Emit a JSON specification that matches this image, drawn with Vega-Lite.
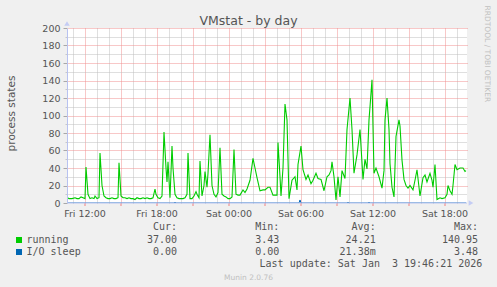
{
  "$schema": "https://vega.github.io/schema/vega-lite/v6.json",
  "width": 400,
  "height": 175,
  "autosize": {"type": "none"},
  "padding": {"left": 67, "top": 28, "right": 30, "bottom": 84},
  "background": "#F0F0F0",
  "view": {"stroke": null, "fill": "white"},
  "config": {
    "font": "DejaVu Sans",
    "axis": {"labelFont": "DejaVu Sans", "titleFont": "DejaVu Sans", "titleFontWeight": "normal"},
    "legend": {
      "symbolType": "square", "symbolSize": 36, "symbolStrokeWidth": 0,
      "labelFont": "DejaVu Sans Mono", "labelFontSize": 10, "labelColor": "#555555", "labelLimit": 0, "labelOffset": 2.5,
      "rowPadding": 2, "titleFont": "DejaVu Sans Mono", "titleFontSize": 10, "titleFontWeight": "normal",
      "titleColor": "#555555", "titleAnchor": "end", "titleLimit": 0, "titlePadding": 3, "padding": 0, "offset": 0
    }
  },
  "datasets": {
    "running": [
      {"t":"2026-01-02T10:30","v":6.5},{"t":"2026-01-02T10:40","v":5},{"t":"2026-01-02T10:55","v":5},{"t":"2026-01-02T11:10","v":6},
      {"t":"2026-01-02T11:20","v":5},{"t":"2026-01-02T11:30","v":5},{"t":"2026-01-02T11:40","v":7},{"t":"2026-01-02T11:50","v":6},
      {"t":"2026-01-02T12:00","v":5},{"t":"2026-01-02T12:05","v":41},{"t":"2026-01-02T12:15","v":10},{"t":"2026-01-02T12:25","v":5},
      {"t":"2026-01-02T12:35","v":6},{"t":"2026-01-02T12:45","v":5},{"t":"2026-01-02T12:50","v":8},{"t":"2026-01-02T13:00","v":5},
      {"t":"2026-01-02T13:10","v":6},{"t":"2026-01-02T13:15","v":57},{"t":"2026-01-02T13:25","v":20},{"t":"2026-01-02T13:35","v":8},
      {"t":"2026-01-02T13:45","v":6},{"t":"2026-01-02T13:55","v":5},{"t":"2026-01-02T14:05","v":5},{"t":"2026-01-02T14:15","v":6},
      {"t":"2026-01-02T14:25","v":5},{"t":"2026-01-02T14:35","v":5},{"t":"2026-01-02T14:45","v":6},{"t":"2026-01-02T14:50","v":46},
      {"t":"2026-01-02T15:00","v":8},{"t":"2026-01-02T15:10","v":6},{"t":"2026-01-02T15:20","v":6},{"t":"2026-01-02T15:30","v":5},
      {"t":"2026-01-02T15:40","v":6},{"t":"2026-01-02T15:50","v":5},{"t":"2026-01-02T16:00","v":5},{"t":"2026-01-02T16:10","v":4},
      {"t":"2026-01-02T16:20","v":6},{"t":"2026-01-02T16:30","v":5},{"t":"2026-01-02T16:40","v":5},{"t":"2026-01-02T16:50","v":6},
      {"t":"2026-01-02T17:00","v":5},{"t":"2026-01-02T17:10","v":6},{"t":"2026-01-02T17:20","v":5},{"t":"2026-01-02T17:30","v":5},
      {"t":"2026-01-02T17:40","v":6},{"t":"2026-01-02T17:50","v":16},{"t":"2026-01-02T17:55","v":10},{"t":"2026-01-02T18:05","v":6},
      {"t":"2026-01-02T18:15","v":5},{"t":"2026-01-02T18:25","v":8},{"t":"2026-01-02T18:35","v":81},{"t":"2026-01-02T18:45","v":40},
      {"t":"2026-01-02T18:50","v":24},{"t":"2026-01-02T18:55","v":47},{"t":"2026-01-02T19:05","v":6},{"t":"2026-01-02T19:15","v":65},
      {"t":"2026-01-02T19:20","v":40},{"t":"2026-01-02T19:30","v":10},{"t":"2026-01-02T19:40","v":6},{"t":"2026-01-02T19:50","v":5},
      {"t":"2026-01-02T20:00","v":5},{"t":"2026-01-02T20:10","v":5},{"t":"2026-01-02T20:20","v":6},{"t":"2026-01-02T20:30","v":10},
      {"t":"2026-01-02T20:35","v":57},{"t":"2026-01-02T20:45","v":5},{"t":"2026-01-02T20:55","v":5},{"t":"2026-01-02T21:05","v":8},
      {"t":"2026-01-02T21:15","v":13},{"t":"2026-01-02T21:20","v":10},{"t":"2026-01-02T21:30","v":6},{"t":"2026-01-02T21:35","v":48},
      {"t":"2026-01-02T21:45","v":8},{"t":"2026-01-02T21:55","v":20},{"t":"2026-01-02T22:00","v":36},{"t":"2026-01-02T22:10","v":18},
      {"t":"2026-01-02T22:15","v":34},{"t":"2026-01-02T22:25","v":78},{"t":"2026-01-02T22:35","v":20},{"t":"2026-01-02T22:45","v":10},
      {"t":"2026-01-02T22:55","v":7},{"t":"2026-01-02T23:05","v":12},{"t":"2026-01-02T23:15","v":63},{"t":"2026-01-02T23:25","v":10},
      {"t":"2026-01-02T23:35","v":8},{"t":"2026-01-02T23:45","v":7},{"t":"2026-01-02T23:55","v":5},{"t":"2026-01-03T00:05","v":5},
      {"t":"2026-01-03T00:15","v":7},{"t":"2026-01-03T00:25","v":61},{"t":"2026-01-03T00:35","v":10},{"t":"2026-01-03T00:45","v":9},
      {"t":"2026-01-03T00:55","v":9},{"t":"2026-01-03T01:10","v":15},{"t":"2026-01-03T01:20","v":12},{"t":"2026-01-03T01:30","v":16},
      {"t":"2026-01-03T01:45","v":26},{"t":"2026-01-03T02:00","v":51},{"t":"2026-01-03T02:10","v":40},{"t":"2026-01-03T02:20","v":29},
      {"t":"2026-01-03T02:35","v":14},{"t":"2026-01-03T02:50","v":15},{"t":"2026-01-03T03:00","v":15},{"t":"2026-01-03T03:15","v":18},
      {"t":"2026-01-03T03:25","v":18},{"t":"2026-01-03T03:40","v":9},{"t":"2026-01-03T03:50","v":9},{"t":"2026-01-03T04:00","v":9},
      {"t":"2026-01-03T04:05","v":69},{"t":"2026-01-03T04:15","v":30},{"t":"2026-01-03T04:20","v":8},{"t":"2026-01-03T04:30","v":40},
      {"t":"2026-01-03T04:40","v":113},{"t":"2026-01-03T04:50","v":95},{"t":"2026-01-03T05:00","v":5},{"t":"2026-01-03T05:15","v":26},
      {"t":"2026-01-03T05:30","v":30},{"t":"2026-01-03T05:40","v":15},{"t":"2026-01-03T05:45","v":44},{"t":"2026-01-03T06:00","v":65},
      {"t":"2026-01-03T06:10","v":38},{"t":"2026-01-03T06:25","v":27},{"t":"2026-01-03T06:35","v":32},{"t":"2026-01-03T06:50","v":22},
      {"t":"2026-01-03T07:00","v":26},{"t":"2026-01-03T07:15","v":34},{"t":"2026-01-03T07:25","v":28},{"t":"2026-01-03T07:40","v":27},
      {"t":"2026-01-03T07:55","v":14},{"t":"2026-01-03T08:10","v":30},{"t":"2026-01-03T08:20","v":32},{"t":"2026-01-03T08:30","v":37},
      {"t":"2026-01-03T08:35","v":47},{"t":"2026-01-03T08:45","v":30},{"t":"2026-01-03T08:55","v":3.43},{"t":"2026-01-03T09:05","v":30},
      {"t":"2026-01-03T09:15","v":7},{"t":"2026-01-03T09:25","v":37},{"t":"2026-01-03T09:40","v":28},{"t":"2026-01-03T09:50","v":84},
      {"t":"2026-01-03T10:05","v":120},{"t":"2026-01-03T10:15","v":84},{"t":"2026-01-03T10:25","v":34},{"t":"2026-01-03T10:40","v":55},
      {"t":"2026-01-03T10:55","v":84},{"t":"2026-01-03T11:10","v":27},{"t":"2026-01-03T11:20","v":50},{"t":"2026-01-03T11:30","v":39},
      {"t":"2026-01-03T11:40","v":95},{"t":"2026-01-03T11:45","v":110},{"t":"2026-01-03T11:55","v":140.95},{"t":"2026-01-03T12:05","v":34},
      {"t":"2026-01-03T12:15","v":40},{"t":"2026-01-03T12:30","v":30},{"t":"2026-01-03T12:45","v":17},{"t":"2026-01-03T12:55","v":37},
      {"t":"2026-01-03T13:00","v":95},{"t":"2026-01-03T13:10","v":120},{"t":"2026-01-03T13:20","v":84},{"t":"2026-01-03T13:25","v":45},
      {"t":"2026-01-03T13:35","v":18},{"t":"2026-01-03T13:45","v":7},{"t":"2026-01-03T13:55","v":76},{"t":"2026-01-03T14:10","v":95},
      {"t":"2026-01-03T14:15","v":88},{"t":"2026-01-03T14:25","v":49},{"t":"2026-01-03T14:35","v":27},{"t":"2026-01-03T14:45","v":20},
      {"t":"2026-01-03T14:55","v":17},{"t":"2026-01-03T15:05","v":20},{"t":"2026-01-03T15:20","v":15},{"t":"2026-01-03T15:30","v":26},
      {"t":"2026-01-03T15:40","v":38},{"t":"2026-01-03T15:50","v":18},{"t":"2026-01-03T15:55","v":8},{"t":"2026-01-03T16:10","v":29},
      {"t":"2026-01-03T16:20","v":32},{"t":"2026-01-03T16:30","v":24},{"t":"2026-01-03T16:45","v":34},{"t":"2026-01-03T16:55","v":26},
      {"t":"2026-01-03T17:00","v":18},{"t":"2026-01-03T17:10","v":44},{"t":"2026-01-03T17:20","v":4},{"t":"2026-01-03T17:35","v":6},
      {"t":"2026-01-03T17:45","v":5},{"t":"2026-01-03T18:00","v":6},{"t":"2026-01-03T18:10","v":10},{"t":"2026-01-03T18:15","v":20},
      {"t":"2026-01-03T18:25","v":14},{"t":"2026-01-03T18:35","v":10},{"t":"2026-01-03T18:40","v":20},{"t":"2026-01-03T18:50","v":44},
      {"t":"2026-01-03T19:00","v":38},{"t":"2026-01-03T19:15","v":40},{"t":"2026-01-03T19:30","v":40},{"t":"2026-01-03T19:40","v":36},
      {"t":"2026-01-03T19:45","v":37}
    ],
    "iosleep": [
      {"t":"2026-01-02T10:30","v":0},{"t":"2026-01-02T19:25","v":0},{"t":"2026-01-02T19:30","v":1},{"t":"2026-01-02T19:35","v":0},
      {"t":"2026-01-03T05:50","v":0},{"t":"2026-01-03T05:55","v":3.48},{"t":"2026-01-03T06:00","v":0},
      {"t":"2026-01-03T09:50","v":0},{"t":"2026-01-03T09:55","v":1},{"t":"2026-01-03T10:00","v":0},
      {"t":"2026-01-03T11:35","v":0},{"t":"2026-01-03T11:40","v":1},{"t":"2026-01-03T11:45","v":0},
      {"t":"2026-01-03T19:45","v":0}
    ]
  },
  "resolve": {"axis": {"x": "independent", "y": "independent"}},
  "layer": [
    {
      "data": {"values": [{}]},
      "mark": {"type": "point", "shape": "triangle-up", "size": 30, "filled": true, "color": "#C4CCF4", "opacity": 1, "yOffset": -4.5},
      "encoding": {
        "x": {"datum": {"year":2026,"month":1,"date":2,"hours":10,"minutes":30}, "type": "temporal",
          "scale": {"domain": [{"year":2026,"month":1,"date":2,"hours":10,"minutes":30},{"year":2026,"month":1,"date":3,"hours":19,"minutes":50}]},
          "axis": {"orient": "top",
            "values": [{"year":2026,"month":1,"date":2,"hours":11},{"year":2026,"month":1,"date":2,"hours":13},{"year":2026,"month":1,"date":2,"hours":14},{"year":2026,"month":1,"date":2,"hours":16},{"year":2026,"month":1,"date":2,"hours":17},{"year":2026,"month":1,"date":2,"hours":19},{"year":2026,"month":1,"date":2,"hours":20},{"year":2026,"month":1,"date":2,"hours":22},{"year":2026,"month":1,"date":2,"hours":23},{"year":2026,"month":1,"date":3,"hours":1},{"year":2026,"month":1,"date":3,"hours":2},{"year":2026,"month":1,"date":3,"hours":4},{"year":2026,"month":1,"date":3,"hours":5},{"year":2026,"month":1,"date":3,"hours":7},{"year":2026,"month":1,"date":3,"hours":8},{"year":2026,"month":1,"date":3,"hours":10},{"year":2026,"month":1,"date":3,"hours":11},{"year":2026,"month":1,"date":3,"hours":13},{"year":2026,"month":1,"date":3,"hours":14},{"year":2026,"month":1,"date":3,"hours":16},{"year":2026,"month":1,"date":3,"hours":17},{"year":2026,"month":1,"date":3,"hours":19}],
            "grid": true, "gridColor": "#BEBEBE", "gridDash": [1,1],
            "labels": false, "ticks": false, "domain": false, "title": "VMstat - by day", "titleX": 181, "titleY": -4,
            "titleAlign": "center", "titleBaseline": "alphabetic", "titleFontSize": 12.5, "titleColor": "#555555", "zindex": 0}},
        "y": {"datum": 200, "type": "quantitative",
          "scale": {"domain": [0, 200], "nice": false},
          "axis": {"orient": "left", "values": [10,30,50,70,90,110,130,150,170,190], "grid": true, "gridColor": "#BEBEBE", "gridDash": [1,1],
            "labels": false, "ticks": true, "tickSize": 2, "tickColor": "#C8C8C8", "domain": false, "title": null, "zindex": 0}}
      }
    },
    {
      "data": {"name": "iosleep"},
      "mark": {"type": "line", "strokeWidth": 1, "clip": true},
      "encoding": {
        "x": {"field": "t", "type": "temporal",
          "axis": {"orient": "bottom",
            "values": [{"year":2026,"month":1,"date":2,"hours":12},{"year":2026,"month":1,"date":2,"hours":15},{"year":2026,"month":1,"date":2,"hours":18},{"year":2026,"month":1,"date":2,"hours":21},{"year":2026,"month":1,"date":3,"hours":0},{"year":2026,"month":1,"date":3,"hours":3},{"year":2026,"month":1,"date":3,"hours":6},{"year":2026,"month":1,"date":3,"hours":9},{"year":2026,"month":1,"date":3,"hours":12},{"year":2026,"month":1,"date":3,"hours":15},{"year":2026,"month":1,"date":3,"hours":18}],
            "grid": true, "gridColor": "#F09090", "gridDash": [1,1],
            "labels": false, "ticks": false, "domain": false, "title": "Munin 2.0.76", "titleX": 181, "titleY": 76,
            "titleAlign": "center", "titleBaseline": "alphabetic", "titleFontSize": 7.5, "titleColor": "#C0C0C0", "zindex": 0}},
        "y": {"field": "v", "type": "quantitative",
          "axis": {"orient": "right", "values": [20,40,60,80,100,120,140,160,180,200], "grid": true, "gridColor": "#F09090", "gridDash": [1,1],
            "labels": false, "ticks": false, "domain": false, "title": "RRDTOOL / TOBI OETIKER", "titleX": 19.5, "titleY": -23,
            "titleAngle": 90, "titleAlign": "left", "titleBaseline": "middle", "titleFontSize": 7.5, "titleColor": "#C0C0C0", "zindex": 0}},
        "color": {"datum": "I/O sleep", "type": "nominal",
          "scale": {"domain": ["running", "I/O sleep"], "range": ["#00CC00", "#0066B3"]},
          "legend": {"orient": "none", "legendX": -53, "legendY": 194, "direction": "vertical",
            "title": "Cur:\u00a0\u00a0\u00a0\u00a0\u00a0\u00a0\u00a0\u00a0\u00a0\u00a0\u00a0\u00a0\u00a0Min:\u00a0\u00a0\u00a0\u00a0\u00a0\u00a0\u00a0\u00a0\u00a0\u00a0\u00a0\u00a0Avg:\u00a0\u00a0\u00a0\u00a0\u00a0\u00a0\u00a0\u00a0\u00a0\u00a0\u00a0\u00a0\u00a0Max:\u00a0",
            "labelExpr": "datum.label == 'running' ? 'running\u00a0\u00a0\u00a0\u00a0\u00a0\u00a0\u00a0\u00a0\u00a0\u00a0\u00a0\u00a0\u00a037.00\u00a0\u00a0\u00a0\u00a0\u00a0\u00a0\u00a0\u00a0\u00a0\u00a0\u00a0\u00a0\u00a03.43\u00a0\u00a0\u00a0\u00a0\u00a0\u00a0\u00a0\u00a0\u00a0\u00a0\u00a024.21\u00a0\u00a0\u00a0\u00a0\u00a0\u00a0\u00a0\u00a0\u00a0\u00a0\u00a0140.95' : 'I/O sleep\u00a0\u00a0\u00a0\u00a0\u00a0\u00a0\u00a0\u00a0\u00a0\u00a0\u00a0\u00a00.00\u00a0\u00a0\u00a0\u00a0\u00a0\u00a0\u00a0\u00a0\u00a0\u00a0\u00a0\u00a0\u00a00.00\u00a0\u00a0\u00a0\u00a0\u00a0\u00a0\u00a0\u00a0\u00a0\u00a021.38m\u00a0\u00a0\u00a0\u00a0\u00a0\u00a0\u00a0\u00a0\u00a0\u00a0\u00a0\u00a0\u00a03.48'",
            "encode": {"symbols": {"update": {"fill": {"scale": "color", "field": "value"}, "stroke": {"value": "transparent"}, "opacity": {"value": 1}}}}}}
      }
    },
    {
      "data": {"name": "running"},
      "mark": {"type": "line", "strokeWidth": 1.1, "clip": true},
      "encoding": {
        "x": {"field": "t", "type": "temporal", "axis": null},
        "y": {"field": "v", "type": "quantitative", "axis": null},
        "color": {"datum": "running", "type": "nominal"}
      }
    },
    {
      "data": {"values": [{}]},
      "mark": {"type": "point", "shape": "triangle-right", "size": 30, "filled": true, "color": "#C4CCF4", "opacity": 1, "xOffset": 4},
      "encoding": {
        "x": {"datum": {"year":2026,"month":1,"date":3,"hours":19,"minutes":50}, "type": "temporal",
          "axis": {"orient": "bottom", "translate": 0,
            "values": [{"year":2026,"month":1,"date":2,"hours":12},{"year":2026,"month":1,"date":2,"hours":15},{"year":2026,"month":1,"date":2,"hours":18},{"year":2026,"month":1,"date":2,"hours":21},{"year":2026,"month":1,"date":3,"hours":0},{"year":2026,"month":1,"date":3,"hours":3},{"year":2026,"month":1,"date":3,"hours":6},{"year":2026,"month":1,"date":3,"hours":9},{"year":2026,"month":1,"date":3,"hours":12},{"year":2026,"month":1,"date":3,"hours":15},{"year":2026,"month":1,"date":3,"hours":18}],
            "grid": false, "domain": true, "domainColor": "#B8C2F0",
            "ticks": true, "tickColor": "#F08080", "tickSize": 3, "labels": true,
            "labelExpr": "hours(datum.value) % 6 == 0 ? timeFormat(datum.value, '%a %H:%M') : ''",
            "labelFontSize": 9.5, "labelColor": "#555555", "labelPadding": 3, "labelFlush": false, "labelOverlap": false,
            "title": "Last update: Sat Jan \u00a03 19:46:21 2026", "titleFont": "DejaVu Sans Mono", "titleFontSize": 10, "titleColor": "#555555",
            "titleX": 415.3, "titleY": 64, "titleAlign": "right", "titleBaseline": "alphabetic", "zindex": 1}},
        "y": {"datum": 0, "type": "quantitative",
          "axis": {"orient": "left", "values": [0,20,40,60,80,100,120,140,160,180,200], "grid": false, "domain": true, "domainColor": "#B8C2F0",
            "ticks": true, "tickSize": 4, "tickColor": "#A8A8A8", "labels": true, "labelFontSize": 9.5, "labelColor": "#555555", "labelPadding": 3,
            "title": "process states", "titleX": -56, "titleY": 85, "titleAngle": -90, "titleAlign": "center", "titleBaseline": "middle",
            "titleFontSize": 10.5, "titleColor": "#555555", "zindex": 1}}
      }
    }
  ]
}
